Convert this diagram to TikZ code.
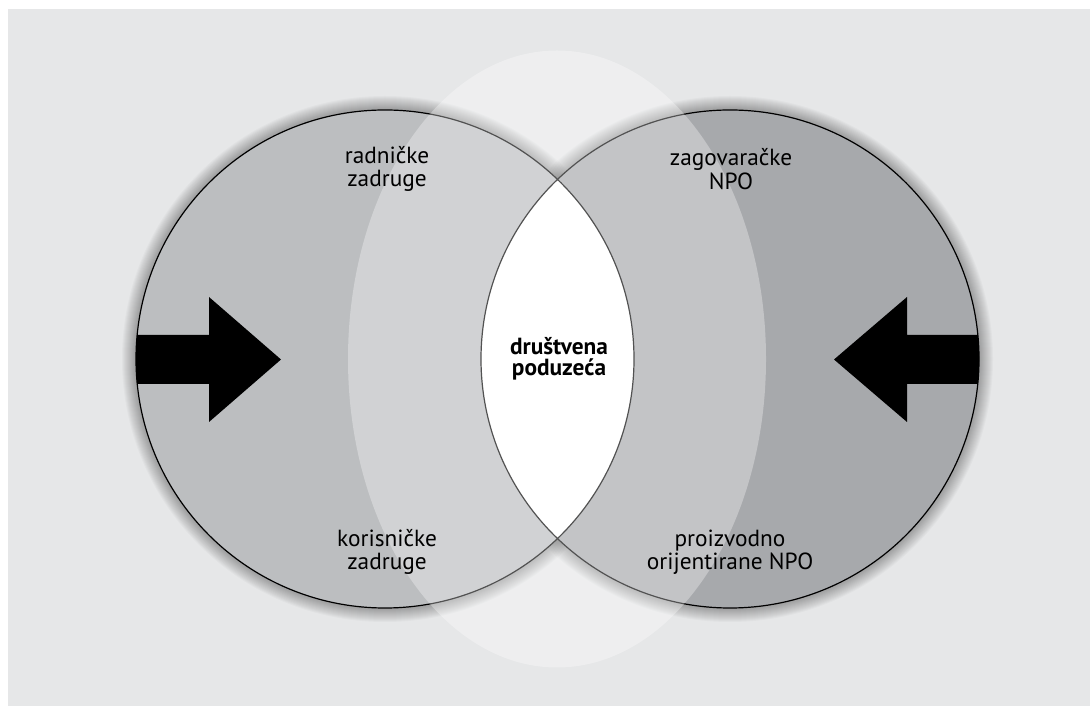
\documentclass[tikz,border=0pt]{standalone}
\usepackage{fontspec}
\setmainfont{PT Sans}
\usepackage{xcolor}
\definecolor{panelgray}{RGB}{230,231,232}
\definecolor{leftgray}{RGB}{188,190,192}
\definecolor{rightgray}{RGB}{167,169,172}

\begin{document}
\begin{tikzpicture}[x=0.75pt, y=0.75pt,
    label/.style={align=center, font=\fontsize{17.5}{17.5}\selectfont, inner sep=0pt},
    halo/.style={fill=black, opacity=0.022},
    rim/.style={draw=black, line width=0.9pt},
    bigarrow/.style={fill=black},
  ]
  \useasboundingbox (0,0) rectangle (1091,706);
  \fill[white] (0,0) rectangle (1091,706);
  \fill[panelgray] (8,0) rectangle (1090,697);

  \coordinate (lc) at (385,347);
  \coordinate (rc) at (730,347);
  \coordinate (mc) at (557,347);

  % soft halo round both circles
  \foreach \r in {1,...,14} {
    \path[halo] (lc) circle (249+\r);
    \path[halo] (rc) circle (249+\r);
  }
  \fill[leftgray]  (lc) circle (249);
  \fill[rightgray] (rc) circle (249);
  \begin{scope}
    \clip (lc) circle (249);
    \fill[white] (rc) circle (249);
  \end{scope}

  % arrows pushing inwards
  \begin{scope}
    \clip (lc) circle (249);
    \fill[bigarrow] (120,322) -- (209,322) -- (209,284) -- (281,346.5)
      -- (209,409) -- (209,371) -- (120,371) -- cycle;
  \end{scope}
  \begin{scope}
    \clip (rc) circle (249);
    \fill[bigarrow] (995,322) -- (907,322) -- (907,284) -- (834,346.5)
      -- (907,409) -- (907,371) -- (995,371) -- cycle;
  \end{scope}

  \draw[rim] (lc) circle (249);
  \draw[rim] (rc) circle (249);

  % light overlay
  \fill[white, fill opacity=0.32] (mc) ellipse (209 and 308.5);

  \node[label] (radnicke)    at (387,537) {radničke\\zadruge};
  \node[label] (zagovaracke) at (731,537) {zagovaračke\\NPO};
  \node[label] (korisnicke)  at (387,154) {korisničke\\zadruge};
  \node[label] (proizvodno)  at (730,154) {proizvodno\\orijentirane NPO};
  \node[label, font=\fontsize{17.5}{16}\selectfont\bfseries] (drustvena) at (559,347) {društvena\\poduzeća};
\end{tikzpicture}
\end{document}
